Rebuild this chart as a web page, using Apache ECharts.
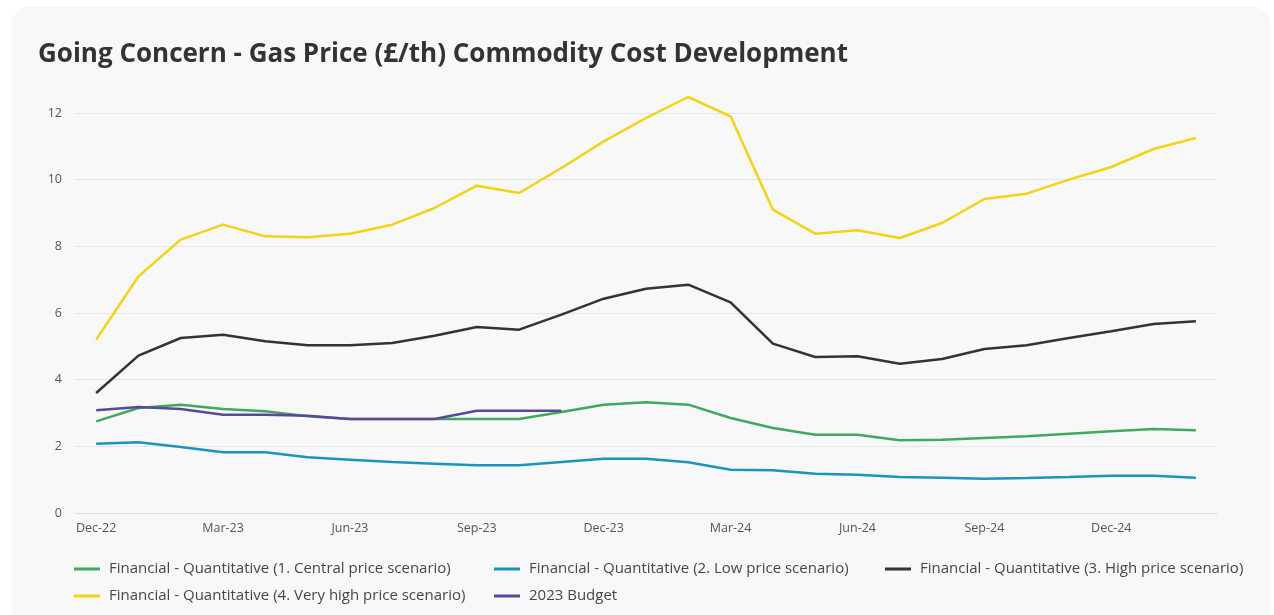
<!DOCTYPE html>
<html>
<head>
<meta charset="utf-8">
<script src="https://cdn.jsdelivr.net/npm/echarts@6/dist/echarts.min.js"></script>
<style>
  html, body { margin: 0; padding: 0; background: #ffffff; }
  #card {
    position: absolute; left: 12px; top: 7px; width: 1258px; height: 640px;
    background: #f8f8f8; border-radius: 16px;
  }
  #chart { position: absolute; left: 0; top: 0; width: 1274px; height: 615px; }
</style>
</head>
<body>
<div id="card"></div>
<div id="chart"></div>
<script>
  // months, Dec-22 .. Feb-25
  const months = [
    'Dec-22', 'Jan-23', 'Feb-23', 'Mar-23', 'Apr-23', 'May-23', 'Jun-23', 'Jul-23', 'Aug-23',
    'Sep-23', 'Oct-23', 'Nov-23', 'Dec-23', 'Jan-24', 'Feb-24', 'Mar-24', 'Apr-24', 'May-24',
    'Jun-24', 'Jul-24', 'Aug-24', 'Sep-24', 'Oct-24', 'Nov-24', 'Dec-24', 'Jan-25', 'Feb-25'
  ]

  const central = [2.75, 3.15, 3.25, 3.12, 3.05, 2.9, 2.82, 2.82, 2.82, 2.82, 2.82, 3.03, 3.25, 3.32,
    3.25, 2.85, 2.55, 2.35, 2.35, 2.18, 2.2, 2.25, 2.3, 2.38, 2.45, 2.52, 2.48]
  const low = [2.08, 2.12, 1.98, 1.82, 1.82, 1.67, 1.6, 1.53, 1.48, 1.43, 1.43, 1.53, 1.63, 1.63,
    1.52, 1.3, 1.28, 1.18, 1.15, 1.08, 1.06, 1.03, 1.05, 1.08, 1.12, 1.12, 1.06]
  const high = [3.6, 4.72, 5.25, 5.35, 5.15, 5.03, 5.03, 5.1, 5.32, 5.58, 5.5, 5.95, 6.43, 6.73,
    6.85, 6.32, 5.08, 4.68, 4.7, 4.48, 4.62, 4.92, 5.03, 5.25, 5.45, 5.67, 5.75]
  const veryHigh = [5.2, 7.1, 8.2, 8.65, 8.3, 8.27, 8.38, 8.65, 9.15, 9.82, 9.6, 10.35, 11.15, 11.85,
    12.48, 11.9, 9.1, 8.38, 8.48, 8.25, 8.7, 9.42, 9.58, 10.0, 10.38, 10.92, 11.25]
  const budget = [3.08, 3.18, 3.12, 2.95, 2.95, 2.92, 2.82, 2.82, 2.82, 3.07, 3.07, 3.07]

  const names = [
    'Financial - Quantitative (1. Central price scenario)',
    'Financial - Quantitative (2. Low price scenario)',
    'Financial - Quantitative (3. High price scenario)',
    'Financial - Quantitative (4. Very high price scenario)',
    '2023 Budget'
  ]
  const colors = ['#3fa95d', '#1b94be', '#333333', '#f3d217', '#5a47a0']
  const values = [central, low, high, veryHigh, budget]

  const fontFamily = '"Open Sans", sans-serif'

  const legendBase = (left, data) => ({
    left: left,
    top: 556,
    orient: 'vertical',
    icon: 'rect',
    itemWidth: 26,
    itemHeight: 3,
    itemGap: 11,
    data: data,
    textStyle: {
      fontFamily: fontFamily,
      fontSize: 15,
      lineHeight: 16,
      color: '#474747',
      padding: [0, 0, 0, 4]
    }
  })

  const mChart = echarts.init(document.getElementById('chart'))

  const options = {
    backgroundColor: 'transparent',
    animation: false,
    title: {
      text: 'Going Concern - Gas Price (£/th) Commodity Cost Development',
      left: 33,
      top: 37,
      textStyle: {
        fontFamily: fontFamily,
        fontSize: 26,
        fontWeight: 'bold',
        color: '#333'
      }
    },
    legend: [
      legendBase(69, [names[0], names[3]]),
      legendBase(489, [names[1], names[4]]),
      legendBase(880, [names[2]])
    ],
    grid: { left: 75, right: 57, top: 113, bottom: 102 },
    xAxis: {
      type: 'category',
      data: months,
      boundaryGap: true,
      axisLine: { lineStyle: { color: '#dcdcdc' } },
      axisTick: { interval: 2, length: 5, lineStyle: { color: '#dcdcdc' } },
      axisLabel: {
        interval: 2,
        margin: 9,
        fontFamily: fontFamily,
        fontSize: 12.5,
        color: '#555'
      }
    },
    yAxis: {
      type: 'value',
      min: 0,
      max: 12,
      interval: 2,
      axisLine: { show: false },
      axisTick: { show: false },
      splitLine: { lineStyle: { color: '#e6e6e6' } },
      axisLabel: {
        margin: 13,
        fontFamily: fontFamily,
        fontSize: 12.5,
        color: '#555'
      }
    },
    series: names.map((name, i) => ({
      name: name,
      type: 'line',
      data: values[i],
      symbol: 'none',
      clip: false,
      z: i === 4 ? 5 : 2,
      lineStyle: { width: 2.5, color: colors[i] },
      itemStyle: { color: colors[i] }
    }))
  }

  mChart.setOption(options)
</script>
</body>
</html>
